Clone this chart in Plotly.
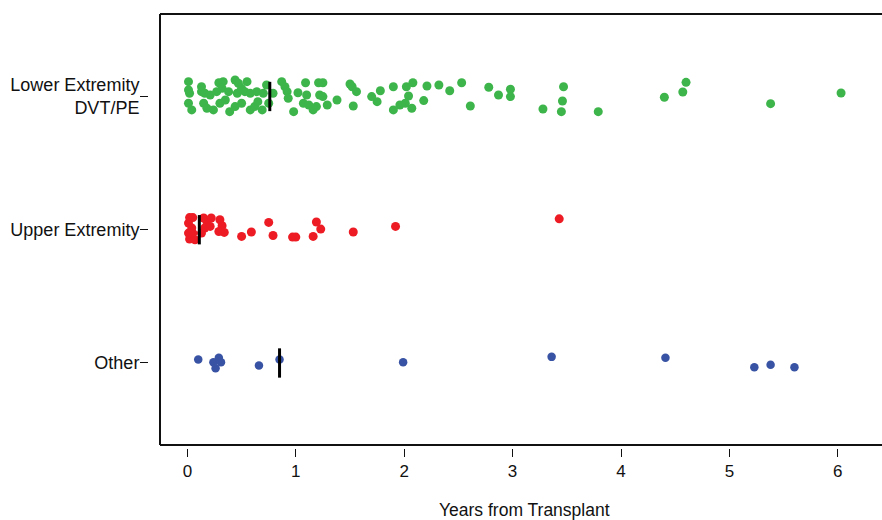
import plotly.graph_objects as go

# ---------------- data ----------------
categories = ["Lower Extremity<br>DVT/PE", "Upper Extremity", "Other"]
category_pos = [3, 2, 1]
colors = ["#3db54a", "#ed1c24", "#3953a4"]
x_ticks = [0, 1, 2, 3, 4, 5, 6]

lower_years = [
    0.01, 0.13, 0.29, 0.33, 0.44, 0.47, 0.55, 0.73, 0.87, 0.90, 1.09, 1.21, 1.25,
    1.50, 1.52, 1.78, 1.90, 2.02, 2.08, 2.21, 2.32, 2.53, 2.78, 2.98,
    0.01, 0.02, 0.13, 0.16, 0.21, 0.27, 0.32, 0.38, 0.46, 0.50, 0.53, 0.58, 0.64,
    0.70, 0.79, 0.92, 1.02, 1.10, 1.22, 1.25, 1.38, 1.56, 1.70, 1.75, 2.04, 2.18,
    2.42, 2.87, 2.98,
    0.01, 0.04, 0.15, 0.18, 0.24, 0.30, 0.35, 0.39, 0.44, 0.50, 0.58, 0.62, 0.65,
    0.69, 0.75, 0.93, 0.98, 1.07, 1.12, 1.16, 1.19, 1.29, 1.53, 1.90, 1.96, 2.01,
    2.07, 2.61,
    3.47, 3.28, 3.46, 3.45, 3.79, 4.40, 4.57, 4.60, 5.38, 6.03,
]
lower_jitter = [
    0.111, 0.073, 0.103, 0.111, 0.124, 0.099, 0.111, 0.086, 0.111, 0.073, 0.103, 0.103, 0.103,
    0.094, 0.073, 0.043, 0.073, 0.073, 0.103, 0.079, 0.086, 0.103, 0.069, 0.054,
    0.049, 0.024, 0.036, 0.024, 0.011, 0.036, 0.061, 0.036, 0.024, 0.061, 0.036, 0.024, 0.036,
    0.024, 0.024, 0.036, 0.028, 0.011, 0.011, -0.001, -0.026, 0.036, -0.001, -0.039, 0.004, -0.031,
    0.043, 0.011, -0.001,
    -0.051, -0.101, -0.051, -0.088, -0.101, -0.051, -0.026, -0.114, -0.076, -0.051, -0.101, -0.076, -0.039,
    -0.101, -0.051, -0.013, -0.114, -0.051, -0.064, -0.101, -0.076, -0.064, -0.071, -0.101, -0.064, -0.051,
    -0.088, -0.071,
    0.073, -0.094, -0.034, -0.114, -0.114, -0.006, 0.034, 0.106, -0.054, 0.026,
]

upper_years = [
    0.02, 0.05, 0.01, 0.04, 0.01, 0.02, 0.07, 0.15, 0.18, 0.22, 0.16, 0.21, 0.30,
    0.32, 0.29, 0.34, 0.05, 0.13, 0.50, 0.59, 0.75, 0.79, 0.97, 1.00, 1.16, 1.19,
    1.23, 1.53, 1.92, 3.43,
]
upper_jitter = [
    0.091, 0.091, 0.050, 0.013, -0.025, -0.070, -0.075, 0.088, 0.062, 0.088, 0.013, 0.025, 0.075,
    0.030, -0.013, -0.020, -0.025, -0.025, -0.050, -0.017, 0.055, -0.043, -0.055, -0.055, -0.050, 0.058,
    0.005, -0.017, 0.025, 0.082,
]

other_years = [0.10, 0.24, 0.29, 0.31, 0.26, 0.66, 0.85, 1.99, 3.36, 4.41, 5.23, 5.38, 5.60]
other_jitter = [0.027, 0.005, 0.040, 0.005, -0.040, -0.019, 0.027, 0.005, 0.046, 0.040, -0.032, -0.014, -0.032]

medians = [0.76, 0.11, 0.85]

# ---------------- figure ----------------
FONT = "Liberation Sans, Arial, Helvetica, sans-serif"
fig = go.Figure()

groups = [(lower_years, lower_jitter), (upper_years, upper_jitter), (other_years, other_jitter)]
sizes = [9, 9, 8.5]
for (xs, js), pos, col, sz in zip(groups, category_pos, colors, sizes):
    fig.add_trace(go.Scatter(
        x=xs, y=[pos + j for j in js], mode="markers",
        marker=dict(color=col, size=sz, line=dict(width=0)),
        showlegend=False, hoverinfo="x",
    ))

for m, pos in zip(medians, category_pos):
    fig.add_trace(go.Scatter(
        x=[m, m], y=[pos - 0.11, pos + 0.11], mode="lines",
        line=dict(color="black", width=3), showlegend=False, hoverinfo="skip",
    ))

W, H = 882, 520
ml, mr, mt, mb = 148, 0, 14, 72
pw, ph = W - ml - mr, H - mt - mb
x_dom0 = (160 - ml) / pw
y_dom0 = (448 - 445) / ph

fig.update_layout(
    width=W, height=H,
    margin=dict(l=ml, r=mr, t=mt, b=mb),
    paper_bgcolor="white", plot_bgcolor="white",
    font=dict(family=FONT, size=17, color="#111"),
    xaxis=dict(
        domain=[x_dom0, 1], range=[-0.2528, 6.4077],
        anchor="free", position=0,
        tickvals=x_ticks, ticktext=[str(t) for t in x_ticks],
        ticks="outside", ticklen=8, tickwidth=1, tickcolor="#111",
        showgrid=False, zeroline=False, showline=False,
        tickfont=dict(size=17),
    ),
    yaxis=dict(
        domain=[y_dom0, 1], range=[0.3846, 3.619],
        anchor="free", position=0,
        tickvals=category_pos, ticktext=categories,
        ticks="outside", ticklen=8, tickwidth=1, tickcolor="#111",
        showgrid=False, zeroline=False, showline=False,
        tickfont=dict(size=18), ticklabelstandoff=-3,
    ),
    shapes=[
        dict(type="line", xref="paper", yref="paper", x0=x_dom0, x1=x_dom0, y0=y_dom0, y1=1,
             line=dict(color="#111", width=2)),
        dict(type="line", xref="paper", yref="paper", x0=x_dom0, x1=1.01, y0=y_dom0, y1=y_dom0,
             line=dict(color="#111", width=2)),
        dict(type="line", xref="paper", yref="paper", x0=x_dom0, x1=1.01, y0=1, y1=1,
             line=dict(color="#111", width=2)),
    ],
    annotations=[
        dict(text="Years from Transplant", xref="paper", yref="paper",
             x=(524 - ml) / pw, y=(448 - 510) / ph, xanchor="center", yanchor="middle",
             showarrow=False, font=dict(size=17.5)),
    ],
)

fig.write_html(
    "out.html",
    config={"displayModeBar": False},
    post_script="document.body.style.margin='0';document.body.style.overflow='hidden';",
)
